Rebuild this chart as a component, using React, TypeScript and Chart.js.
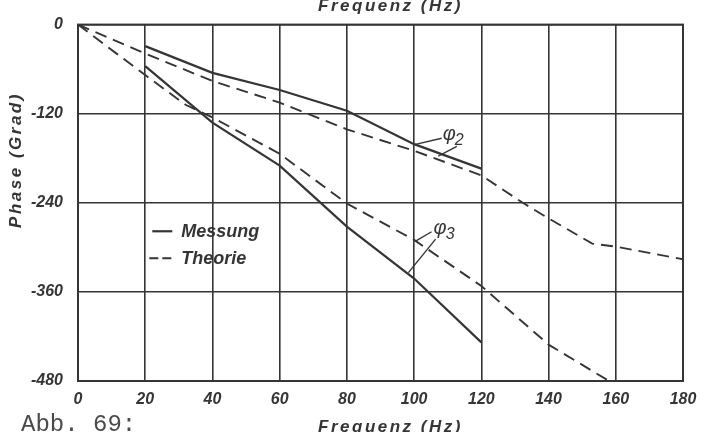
import React, { useEffect, useRef } from "react";
import { Chart, registerables } from "chart.js";

Chart.register(...registerables);

// ---- data (frequency in Hz, phase in degrees) ----
const phi2MessFreq = [20, 40, 60, 80, 100, 120];
const phi2MessPhase = [-29, -65, -88, -116, -161, -194];

const phi2TheoFreq = [0, 20, 40, 60, 80, 100, 120, 132, 140, 153, 160, 180];
const phi2TheoPhase = [0, -39, -76, -105, -141, -170, -203, -239, -261, -295, -299, -316];

const phi3MessFreq = [20, 40, 60, 80, 100, 120];
const phi3MessPhase = [-56, -132, -190, -272, -342, -428];

const phi3TheoFreq = [0, 20, 32, 40, 60, 80, 100, 120, 140, 158];
const phi3TheoPhase = [0, -68, -108, -125, -174, -241, -290, -352, -431, -480];

const xTicks = [0, 20, 40, 60, 80, 100, 120, 140, 160, 180];
const yTicks = [0, -120, -240, -360, -480];

const xTitle = "Frequenz (Hz)";
const yTitle = "Phase (Grad)";
const caption = "Abb. 69:";
const legendSolid = "Messung";
const legendDashed = "Theorie";

// annotation anchors in data space [Hz, deg]
const phi2Leaders = [
  [[99.8, -162], [108.2, -153]],
  [[107.2, -177], [112.7, -164]],
];
const phi2LabelAt = [108.5, -156];
const phi3Leaders = [
  [[100.3, -292], [105.2, -279]],
  [[98.3, -334], [106.4, -289]],
];
const phi3LabelAt = [105.8, -282];
const legendAt = [23, -277];

const INK = "#353535";
const FONT = "'Liberation Sans', Arial, sans-serif";

const zip = (xs: number[], ys: number[]) => xs.map((x, i) => ({ x, y: ys[i] }));

export default function App() {
  const ref = useRef<HTMLCanvasElement | null>(null);

  useEffect(() => {
    if (!ref.current) return;
    const textPlugin = {
      id: "texts",
      afterDraw(chart: any) {
        const { ctx, chartArea, scales } = chart;
        const xs = scales.x;
        const ys = scales.y;
        const px = (v: number) => xs.getPixelForValue(v);
        const py = (v: number) => ys.getPixelForValue(v);
        ctx.save();
        ctx.fillStyle = INK;
        ctx.strokeStyle = INK;
        // titles
        ctx.font = `italic bold 17px ${FONT}`;
        (ctx as any).letterSpacing = "2.5px";
        ctx.textAlign = "center";
        ctx.textBaseline = "alphabetic";
        const cx = (chartArea.left + chartArea.right) / 2 + 10;
        ctx.fillText(xTitle, cx, 11);
        ctx.fillText(xTitle, cx, 432);
        ctx.save();
        ctx.translate(21, 160);
        ctx.rotate(-Math.PI / 2);
        ctx.font = `italic bold 17px ${FONT}`;
        ctx.fillText(yTitle, 0, 0);
        ctx.restore();
        (ctx as any).letterSpacing = "0px";
        // caption
        ctx.font = `24px 'Liberation Mono', 'Courier New', monospace`;
        ctx.textAlign = "left";
        ctx.fillStyle = "#4a4a4a";
        ctx.fillText(caption, 21, 431);
        ctx.fillStyle = INK;
        // legend
        const lx = px(legendAt[0]);
        const ly = py(legendAt[1]);
        ctx.lineWidth = 2.2;
        ctx.beginPath();
        ctx.moveTo(lx - 3, ly + 1);
        ctx.lineTo(lx + 17, ly + 1);
        ctx.stroke();
        ctx.setLineDash([9, 4]);
        ctx.beginPath();
        ctx.moveTo(lx - 6, ly + 28);
        ctx.lineTo(lx + 17, ly + 28);
        ctx.stroke();
        ctx.setLineDash([]);
        ctx.font = `italic bold 18px ${FONT}`;
        ctx.textBaseline = "middle";
        ctx.fillText(legendSolid, lx + 26, ly + 2);
        ctx.fillText(legendDashed, lx + 26, ly + 29);
        // leaders
        ctx.lineWidth = 1.4;
        for (const seg of [...phi2Leaders, ...phi3Leaders]) {
          ctx.beginPath();
          ctx.moveTo(px(seg[0][0]), py(seg[0][1]));
          ctx.lineTo(px(seg[1][0]), py(seg[1][1]));
          ctx.stroke();
        }
        // phi labels
        ctx.textBaseline = "alphabetic";
        const drawPhi = (at: number[], sub: string) => {
          const x = px(at[0]);
          const y = py(at[1]);
          ctx.font = `italic 20px ${FONT}`;
          ctx.fillText("φ", x, y);
          const w = ctx.measureText("φ").width;
          ctx.font = `italic 16px ${FONT}`;
          ctx.fillText(sub, x + w - 1, y + 5);
        };
        drawPhi(phi2LabelAt, "2");
        drawPhi(phi3LabelAt, "3");
        ctx.restore();
      },
    };

    const solid = { borderColor: INK, borderWidth: 2.2, pointRadius: 0, tension: 0, fill: false };
    const dashed = { ...solid, borderWidth: 1.9, borderDash: [12, 7] };

    const chart = new Chart(ref.current, {
      type: "line",
      data: {
        datasets: [
          { label: "φ2 Messung", data: zip(phi2MessFreq, phi2MessPhase), ...solid },
          { label: "φ2 Theorie", data: zip(phi2TheoFreq, phi2TheoPhase), ...dashed },
          { label: "φ3 Messung", data: zip(phi3MessFreq, phi3MessPhase), ...solid },
          { label: "φ3 Theorie", data: zip(phi3TheoFreq, phi3TheoPhase), ...dashed },
        ],
      },
      options: {
        responsive: false,
        animation: false,
        devicePixelRatio: 1,
        layout: { padding: { top: 21, right: 29, left: 0, bottom: 0 } },
        plugins: { legend: { display: false }, tooltip: { enabled: false } },
        scales: {
          x: {
            type: "linear",
            min: 0,
            max: 180,
            afterFit: (s: any) => {
              s.height = 51;
            },
            afterBuildTicks: (s: any) => {
              s.ticks = xTicks.map((v) => ({ value: v }));
            },
            ticks: {
              color: INK,
              padding: 9,
              maxRotation: 0,
              font: { family: FONT, size: 16, style: "italic", weight: "bold" },
            },
            grid: { color: INK, lineWidth: 1.6, drawTicks: false },
            border: { color: INK, width: 2 },
          },
          y: {
            type: "linear",
            min: -480,
            max: 0,
            afterFit: (s: any) => {
              s.width = 78;
            },
            afterBuildTicks: (s: any) => {
              s.ticks = yTicks.map((v) => ({ value: v }));
            },
            ticks: {
              color: INK,
              padding: 15,
              font: { family: FONT, size: 16, style: "italic", weight: "bold" },
            },
            grid: { color: INK, lineWidth: 1.6, drawTicks: false },
            border: { color: INK, width: 2 },
          },
        },
      },
      plugins: [
        {
          id: "frame",
          afterDatasetsDraw(chart: any) {
            const { ctx, chartArea } = chart;
            ctx.save();
            ctx.strokeStyle = INK;
            ctx.lineWidth = 2;
            ctx.strokeRect(chartArea.left, chartArea.top, chartArea.right - chartArea.left, chartArea.bottom - chartArea.top);
            ctx.restore();
          },
        },
        textPlugin,
      ],
    } as any);
    return () => chart.destroy();
  }, []);

  return (
    <div style={{ position: "fixed", left: 0, top: 0, width: 712, height: 432, background: "#fff" }}>
      <canvas ref={ref} width={712} height={432} />
    </div>
  );
}
